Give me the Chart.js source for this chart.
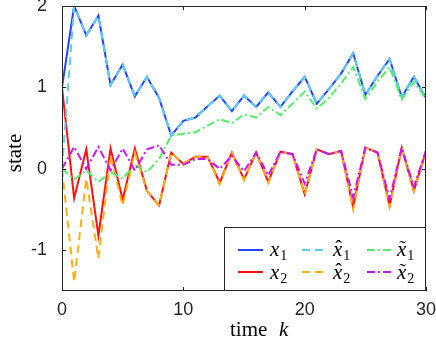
<!DOCTYPE html>
<html><head><meta charset="utf-8">
<script src="https://cdn.jsdelivr.net/npm/chart.js@4/dist/chart.umd.min.js"></script>
<style>html,body{margin:0;padding:0;background:#fff;}</style>
</head><body>
<canvas id="c" width="436" height="339"></canvas>
<script>
const steps = [0,1,2,3,4,5,6,7,8,9,10,11,12,13,14,15,16,17,18,19,20,21,22,23,24,25,26,27,28,29,30];
const x1    = [1.0,2.0,1.64,1.88,1.03,1.28,0.89,1.13,0.87,0.41,0.59,0.63,0.77,0.90,0.71,0.90,0.76,0.94,0.76,0.95,1.13,0.80,0.98,1.17,1.42,0.91,1.14,1.35,0.88,1.13,0.87];
const x1hat = [0.0,2.0,1.64,1.88,1.03,1.28,0.89,1.13,0.87,0.41,0.59,0.63,0.77,0.90,0.71,0.90,0.76,0.94,0.76,0.95,1.13,0.80,0.98,1.17,1.42,0.91,1.14,1.35,0.88,1.13,0.87];
const x1til = [0.0,-0.13,-0.02,-0.16,-0.04,-0.12,0.05,-0.04,0.12,0.41,0.43,0.45,0.53,0.61,0.56,0.67,0.63,0.76,0.66,0.80,0.95,0.74,0.87,1.05,1.25,0.86,1.07,1.25,0.85,1.07,0.86];
const x2    = [1.0,-0.36,0.24,-0.82,0.25,-0.38,0.25,-0.27,-0.45,0.20,0.06,0.15,0.15,-0.17,0.20,-0.13,0.20,-0.16,0.21,0.18,-0.31,0.24,0.18,0.22,-0.47,0.26,0.20,-0.45,0.26,-0.27,0.22];
const x2hat = [0.0,-1.39,-0.12,-1.10,0.16,-0.45,0.20,-0.27,-0.45,0.20,0.06,0.15,0.15,-0.19,0.20,-0.14,0.20,-0.17,0.21,0.18,-0.32,0.24,0.18,0.22,-0.50,0.26,0.20,-0.47,0.26,-0.27,0.22];
const x2til = [0.0,0.27,0.0,0.27,-0.02,0.25,-0.02,0.24,0.29,0.05,0.05,0.12,0.12,0.0,0.16,-0.03,0.20,-0.08,0.21,0.18,-0.18,0.24,0.18,0.22,-0.35,0.26,0.20,-0.37,0.26,-0.22,0.22];
const xTicks = [0,10,20,30];
const yTicks = [-1,0,1,2];

const C = {blue:'#2442ff', lblue:'#5ccdf5', green:'#52f06a', red:'#ff1010', orange:'#ffae14', purple:'#c814ff'};
const DASH = [8,5], DASHDOT = [8,3,2,3];

function pts(arr){ return steps.map((k,i)=>({x:k,y:arr[i]})); }
function ds(label, arr, color, dash, order){
  return {label, data:pts(arr), borderColor:color, backgroundColor:color, borderWidth:2,
          borderDash:dash, pointRadius:0, tension:0, fill:false, order, borderCapStyle:'butt'};
}

const legendItems = [
  {sub:'1', acc:null, color:C.blue, dash:[], col:0, row:0},
  {sub:'2', acc:null, color:C.red, dash:[], col:0, row:1},
  {sub:'1', acc:'hat', color:C.lblue, dash:DASH, col:1, row:0},
  {sub:'2', acc:'hat', color:C.orange, dash:DASH, col:1, row:1},
  {sub:'1', acc:'tilde', color:C.green, dash:DASHDOT, col:2, row:0},
  {sub:'2', acc:'tilde', color:C.purple, dash:DASHDOT, col:2, row:1}
];

function drawX(ctx, x, base, sub, acc){
  ctx.fillStyle = '#000';
  ctx.textAlign = 'left'; ctx.textBaseline = 'alphabetic';
  ctx.font = 'italic 21px "Liberation Serif"';
  ctx.fillText('x', x, base);
  const w = ctx.measureText('x').width;
  if (acc){
    ctx.font = '20px "Liberation Serif"';
    ctx.textAlign = 'center';
    ctx.fillText(acc==='hat' ? '\u02C6' : '\u02DC', x + w/2 + 1, base - 1);
    ctx.textAlign = 'left';
  }
  ctx.font = '14px "Liberation Serif"';
  ctx.fillText(sub, x + w + 1, base + 4);
}

const decor = {
  id:'decor',
  afterDraw(chart){
    const ctx = chart.ctx, a = chart.chartArea;
    const xs = chart.scales.x, ys = chart.scales.y;
    ctx.save();
    ctx.strokeStyle = '#262626'; ctx.lineWidth = 1;
    ctx.strokeRect(Math.round(a.left)+0.5, Math.round(a.top)+0.5, Math.round(a.right-a.left)-1, Math.round(a.bottom-a.top)-1);
    const tl = 4;
    ctx.beginPath();
    xTicks.forEach(v=>{
      const px = Math.round(xs.getPixelForValue(v))+0.5;
      ctx.moveTo(px, a.bottom); ctx.lineTo(px, a.bottom-tl);
      ctx.moveTo(px, a.top); ctx.lineTo(px, a.top+tl);
    });
    yTicks.forEach(v=>{
      const py = Math.round(ys.getPixelForValue(v))+0.5;
      ctx.moveTo(a.left, py); ctx.lineTo(a.left+tl, py);
      ctx.moveTo(a.right, py); ctx.lineTo(a.right-tl, py);
    });
    ctx.stroke();
    const L = {x:224.5, y:227.5, w:201, h:63};
    ctx.fillStyle = '#fff'; ctx.fillRect(L.x, L.y, L.w, L.h);
    ctx.strokeStyle = '#262626'; ctx.strokeRect(L.x, L.y, L.w, L.h);
    const colLine = [238, 302, 367], colText = [270, 333, 397];
    const rowLine = [250, 272], rowBase = [256, 279];
    legendItems.forEach(it=>{
      ctx.strokeStyle = it.color; ctx.lineWidth = 2; ctx.setLineDash(it.dash);
      ctx.beginPath();
      ctx.moveTo(colLine[it.col], rowLine[it.row]); ctx.lineTo(colLine[it.col]+25, rowLine[it.row]);
      ctx.stroke(); ctx.setLineDash([]);
      drawX(ctx, colText[it.col], rowBase[it.row], it.sub, it.acc);
    });
    ctx.fillStyle = '#000';
    ctx.font = '21px "Liberation Serif"';
    ctx.textAlign = 'left'; ctx.textBaseline = 'alphabetic';
    ctx.fillText('time', 230, 336);
    ctx.font = 'italic 21px "Liberation Serif"';
    ctx.fillText('k', 279, 336);
    ctx.save();
    ctx.translate(21, 153); ctx.rotate(-Math.PI/2);
    ctx.font = '21px "Liberation Serif"'; ctx.textAlign = 'center'; ctx.textBaseline = 'alphabetic';
    ctx.fillText('state', 0, 0);
    ctx.restore();
    ctx.restore();
  }
};

new Chart(document.getElementById('c'), {
  type:'line',
  data:{ datasets:[
    ds('x1', x1, C.blue, [], 6),
    ds('x2', x2, C.red, [], 5),
    ds('x1hat', x1hat, C.lblue, DASH, 4),
    ds('x2hat', x2hat, C.orange, DASH, 3),
    ds('x1til', x1til, C.green, DASHDOT, 2),
    ds('x2til', x2til, C.purple, DASHDOT, 1)
  ]},
  options:{
    responsive:false, animation:false, devicePixelRatio:1,
    layout:{padding:{left:0, right:10, top:6, bottom:0}},
    plugins:{legend:{display:false}, tooltip:{enabled:false}},
    scales:{
      x:{type:'linear', min:0, max:30,
         grid:{display:false}, border:{display:false},
         afterBuildTicks:s=>{ s.ticks = xTicks.map(v=>({value:v})); },
         afterFit:s=>{ s.height = 48; s.paddingLeft = 0; s.paddingRight = 0; },
         ticks:{padding:0, color:'#262626', font:{family:'"Liberation Sans"', size:18}, maxRotation:0, autoSkip:false}},
      y:{type:'linear', min:-1.5, max:2,
         grid:{display:false}, border:{display:false},
         afterBuildTicks:s=>{ s.ticks = yTicks.map(v=>({value:v})); },
         afterFit:s=>{ s.width = 62; s.paddingTop = 0; s.paddingBottom = 0; },
         ticks:{padding:7, color:'#262626', font:{family:'"Liberation Sans"', size:18}, autoSkip:false}}
    }
  },
  plugins:[decor]
});
</script>
</body></html>
